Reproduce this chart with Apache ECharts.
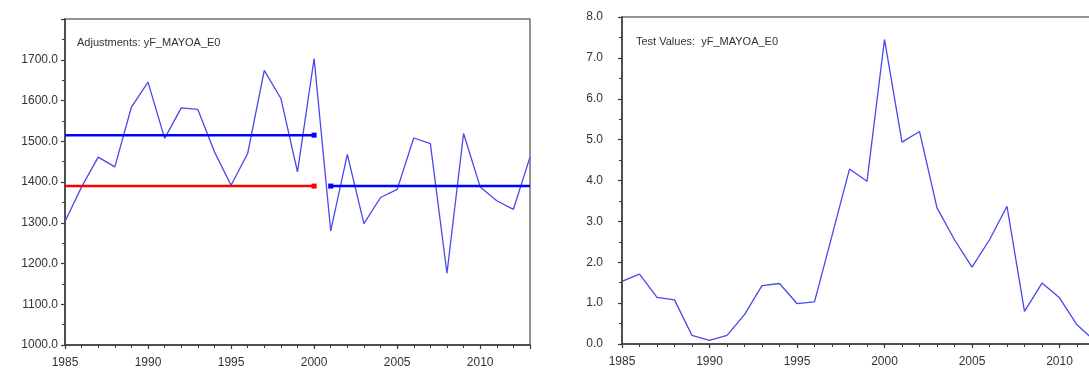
<!DOCTYPE html>
<html>
<head>
<meta charset="utf-8">
<script src="https://cdn.jsdelivr.net/npm/echarts@6/dist/echarts.min.js"></script>
<style>
html,body{margin:0;padding:0;background:#fff;overflow:hidden;width:1089px;height:374px;}
#c{width:1114px;height:374px;}
</style>
</head>
<body>
<div id="c"></div>
<script>
// ---- data ----
const years = [1985,1986,1987,1988,1989,1990,1991,1992,1993,1994,1995,1996,1997,1998,1999,2000,2001,2002,2003,2004,2005,2006,2007,2008,2009,2010,2011,2012,2013];
const adjustments = [1303,1388,1461,1437,1584,1645,1507,1582,1578,1474,1392,1470,1674,1605,1425,1703,1280,1468,1298,1362,1382,1508,1494,1176,1519,1388,1354,1333,1461];
const testYears = [1985,1986,1987,1988,1989,1990,1991,1992,1993,1994,1995,1996,1997,1998,1999,2000,2001,2002,2003,2004,2005,2006,2007,2008,2009,2010,2011,2012];
const testValues = [1.53,1.71,1.14,1.08,0.21,0.09,0.21,0.72,1.43,1.48,0.99,1.03,2.65,4.28,3.98,7.45,4.94,5.20,3.33,2.55,1.88,2.55,3.37,0.80,1.49,1.13,0.47,0.08];
const meanBeforeBlue = 1515;   // mean level 1985-2000 (blue)
const meanBeforeRed = 1390;    // level 1985-2000 (red)
const meanAfterBlue = 1390;    // mean level 2001-2013 (blue)
const seg1 = [1985, 2000];
const seg2 = [2001, 2013];
const title1 = 'Adjustments: yF_MAYOA_E0';
const title2 = 'Test Values:  yF_MAYOA_E0';

const font = 'Liberation Sans, Arial, sans-serif';
const axisCol = '#3a3a3a';
const txtCol = '#333';

function pairs(xs, ys){ return xs.map((x,i)=>[x, ys[i]]); }
function segment(x0, x1, y, markAtStart){
  return [
    {value:[x0,y], symbol: markAtStart ? 'rect' : 'none'},
    {value:[x1,y], symbol: markAtStart ? 'none' : 'rect'}
  ];
}

function xAxisCfg(gi, max){
  return {
    type:'value', gridIndex:gi, min:1985, max:max, interval:5,
    axisLine:{show:true, onZero:false, lineStyle:{color:axisCol, width:1.5}},
    axisTick:{show:true, length:4, lineStyle:{color:axisCol, width:1.2}},
    minorTick:{show:true, splitNumber:5, length:3, lineStyle:{color:axisCol, width:1}},
    splitLine:{show:false},
    axisLabel:{color:txtCol, fontFamily:font, fontSize:12, margin:12, showMaxLabel:false,
      formatter:v=>String(v)}
  };
}

const option = {
  animation:false,
  backgroundColor:'#fff',
  title:[
    {text:title1, left:72, top:32, textStyle:{fontFamily:font, fontSize:11, fontWeight:'normal', color:txtCol}},
    {text:title2, left:631, top:31, textStyle:{fontFamily:font, fontSize:11, fontWeight:'normal', color:txtCol}}
  ],
  grid:[
    {left:65, top:19, width:465, height:326, show:true, borderColor:'#707070', borderWidth:1.5, containLabel:false, outerBoundsMode:'none'},
    {left:622, top:17, width:490, height:327, show:true, borderColor:'#707070', borderWidth:1.5, containLabel:false, outerBoundsMode:'none'}
  ],
  xAxis:[ xAxisCfg(0, 2013), xAxisCfg(1, 2013) ],
  yAxis:[
    {type:'value', gridIndex:0, min:1000, max:1800, interval:100,
     axisLine:{show:true, lineStyle:{color:axisCol, width:1.5}},
     axisTick:{show:true, length:4, lineStyle:{color:axisCol, width:1.2}},
     minorTick:{show:true, splitNumber:2, length:3, lineStyle:{color:axisCol, width:1}},
     splitLine:{show:false},
     axisLabel:{color:txtCol, fontFamily:font, fontSize:12, margin:7, showMaxLabel:false,
       formatter:v=>v.toFixed(1)}},
    {type:'value', gridIndex:1, min:0, max:8, interval:1,
     axisLine:{show:true, lineStyle:{color:axisCol, width:1.5}},
     axisTick:{show:true, length:4, lineStyle:{color:axisCol, width:1.2}},
     minorTick:{show:true, splitNumber:2, length:3, lineStyle:{color:axisCol, width:1}},
     splitLine:{show:false},
     axisLabel:{color:txtCol, fontFamily:font, fontSize:12, margin:19,
       formatter:v=>v.toFixed(1)}}
  ],
  series:[
    {type:'line', xAxisIndex:0, yAxisIndex:0, data:pairs(years, adjustments),
     showSymbol:false, symbol:'none', lineStyle:{color:'#4848ec', width:1.3}},
    {type:'line', xAxisIndex:0, yAxisIndex:0, data:segment(seg1[0], seg1[1], meanBeforeBlue, false),
     symbolSize:5, itemStyle:{color:'#0000ff'}, lineStyle:{color:'#0000ff', width:2.5}},
    {type:'line', xAxisIndex:0, yAxisIndex:0, data:segment(seg1[0], seg1[1], meanBeforeRed, false),
     symbolSize:5, itemStyle:{color:'#ff0000'}, lineStyle:{color:'#ff0000', width:2.5}},
    {type:'line', xAxisIndex:0, yAxisIndex:0, data:segment(seg2[0], seg2[1], meanAfterBlue, true),
     symbolSize:5, itemStyle:{color:'#0000ff'}, lineStyle:{color:'#0000ff', width:2.5}},
    {type:'line', xAxisIndex:1, yAxisIndex:1, data:pairs(testYears, testValues),
     showSymbol:false, symbol:'none', lineStyle:{color:'#4848ec', width:1.3}}
  ]
};

const chart = echarts.init(document.getElementById('c'), null, {renderer:'canvas'});
chart.setOption(option);
</script>
</body>
</html>
